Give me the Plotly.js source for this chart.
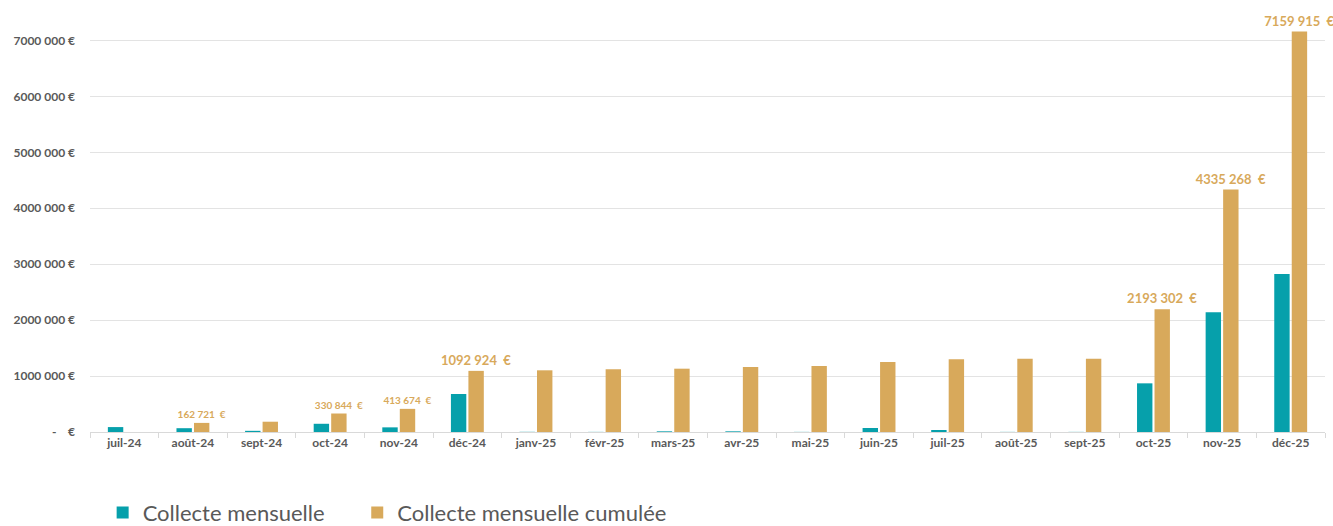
<!DOCTYPE html>
<html>
<head>
<meta charset="utf-8">
<script src="https://cdn.plot.ly/plotly-3.0.1.min.js"></script>
<style>html,body{margin:0;padding:0;background:#fff}#chart{width:1333px;height:526px}</style>
</head>
<body>
<div id="chart"></div>
<script>
const months = ["juil-24","août-24","sept-24","oct-24","nov-24","déc-24","janv-25","févr-25","mars-25","avr-25","mai-25","juin-25","juil-25","août-25","sept-25","oct-25","nov-25","déc-25"];
const monthly = [88000, 68000, 21000, 147000, 83000, 679000, 3000, 2000, 12000, 12000, 2000, 72000, 36000, 2000, 2000, 870000, 2142000, 2825000];
const cumulative = [null, 162721, 184000, 330844, 413674, 1092924, 1103000, 1121000, 1132000, 1162000, 1180000, 1252000, 1300000, 1311000, 1311000, 2193302, 4335268, 7159915];
const cumulLabels = ["", "162 721\u00a0 €", "", "330 844\u00a0 €", "413 674\u00a0 €", "1092 924\u00a0 €", "", "", "", "", "", "", "", "", "", "2193 302\u00a0 €", "4335 268\u00a0 €", "7159 915\u00a0 €"];
const labelSizes = [10, 10, 10, 10, 10, 13, 10, 10, 10, 10, 10, 10, 10, 10, 10, 13, 13, 13];
const yTickVals = [0, 1000000, 2000000, 3000000, 4000000, 5000000, 6000000, 7000000];
const yTickText = ["-\u00a0\u00a0\u00a0\u00a0€", "1000 000 €", "2000 000 €", "3000 000 €", "4000 000 €", "5000 000 €", "6000 000 €", "7000 000 €"];

const TEAL = "#06A0AB";
const GOLD = "#D8A95B";
const FONT = "Lato, 'Open Sans', sans-serif";

const data = [
  {
    type: "bar", name: "Collecte mensuelle", x: months, y: monthly,
    marker: {color: TEAL}, hoverinfo: "x+y", legend: "legend"
  },
  {
    type: "bar", name: "Collecte mensuelle cumulée", x: months, y: cumulative,
    marker: {color: GOLD},
    text: cumulLabels, textposition: "outside", cliponaxis: false, constraintext: "none",
    textfont: {family: FONT, size: labelSizes, color: GOLD, weight: "bold"},
    hoverinfo: "x+y", legend: "legend2"
  }
];

const legendFont = {family: FONT, size: 22, color: "#595959"};

const layout = {
  width: 1333, height: 526,
  margin: {l: 90, r: 8, t: 20, b: 94, autoexpand: false},
  paper_bgcolor: "#fff", plot_bgcolor: "#fff",
  barmode: "group", bargap: 0.49, bargroupgap: 0.12,
  font: {family: FONT, color: "#595959"},
  xaxis: {
    type: "category", showgrid: false,
    showline: true, linecolor: "#d9d9d9", linewidth: 1,
    ticks: "outside", tickson: "boundaries", ticklen: 5, tickcolor: "#d9d9d9",
    tickfont: {family: FONT, size: 12, color: "#595959", weight: "bold"},
    automargin: false,
    fixedrange: true
  },
  yaxis: {
    range: [0, 7366000],
    tickvals: yTickVals, ticktext: yTickText,
    showgrid: true, gridcolor: "#e3e3e3", gridwidth: 1,
    zeroline: false, showline: false, ticks: "",
    ticklabelstandoff: 14,
    tickfont: {family: FONT, size: 12, color: "#595959", weight: "bold"},
    automargin: false,
    fixedrange: true
  },
  showlegend: true,
  legend: {
    orientation: "h", xref: "container", x: 0.077, xanchor: "left",
    yref: "container", y: 0.065, yanchor: "top",
    font: legendFont, bgcolor: "rgba(0,0,0,0)"
  },
  legend2: {
    orientation: "h", xref: "container", x: 0.268, xanchor: "left",
    yref: "container", y: 0.065, yanchor: "top",
    font: legendFont, bgcolor: "rgba(0,0,0,0)"
  }
};

Plotly.newPlot("chart", data, layout, {displayModeBar: false, staticPlot: true});
</script>
</body>
</html>
